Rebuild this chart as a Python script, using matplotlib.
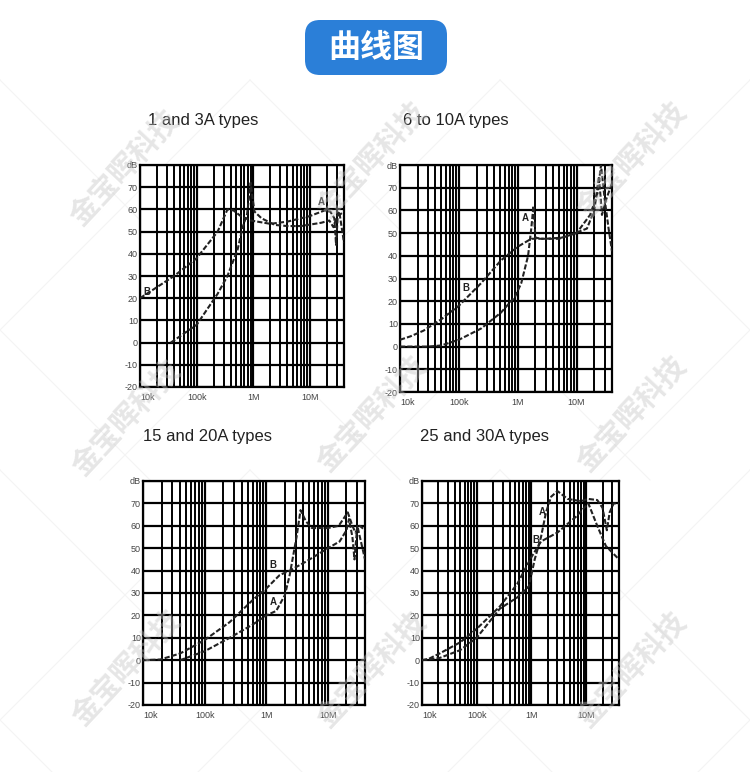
import numpy as np
import matplotlib
matplotlib.use("Agg")
import matplotlib.pyplot as plt
from matplotlib.patches import FancyBboxPatch

# ---------------- data ----------------
titles = ["1 and 3A types", "6 to 10A types", "15 and 20A types", "25 and 30A types"]
y_ticks = [-20, -10, 0, 10, 20, 30, 40, 50, 60, 70, 80]
y_tick_labels = ["-20", "-10", "0", "10", "20", "30", "40", "50", "60", "70", "dB"]
x_ticks = [1e4, 1e5, 1e6, 1e7]
x_tick_labels = ["10k", "100k", "1M", "10M"]

# panel 1: 1 and 3A
p1_fA = [3.5e4, 1e5, 2.35e5, 3.5e5, 5.3e5, 6.5e5, 7.8e5, 9.0e5, 9.6e5, 1.05e6, 1.4e6, 2.4e6, 4e6, 7e6, 1.6e7, 2.2e7, 2.6e7, 3.0e7, 3.3e7, 4e7]
p1_dA = [0, 8, 22, 30, 42, 52, 58, 72, 66, 59, 56, 53, 52.5, 52.5, 54, 55, 52, 57, 59, 45]
p1_fB = [1e4, 2e4, 4e4, 1e5, 2.35e5, 3.5e5, 4.5e5, 6e5, 9e5, 2e6, 4e6, 1e7, 1.8e7, 2.3e7, 2.7e7, 2.9e7, 3.1e7, 4e7]
p1_dB = [20, 25, 30, 38, 50, 60, 59.5, 57, 55, 53.5, 54.5, 57, 59.5, 59, 56, 44, 57, 59]

# panel 2: 6 to 10A
p2_fA = [1e4, 3e4, 5e4, 1e5, 2.4e5, 5.2e5, 9e5, 1.15e6, 1.5e6, 1.7e6, 1.85e6, 2.0e6, 2.5e6, 5e6, 7.5e6, 1.5e7, 2e7, 2.4e7, 2.7e7, 3.2e7, 4e7]
p2_dA = [0, 0, 0.5, 3, 8, 15, 22, 28, 40, 52, 62, 48, 47.5, 47.5, 49, 52, 60, 75, 58, 65, 72]
p2_fB = [1e4, 1.5e4, 2.5e4, 5e4, 1e5, 2.4e5, 5.2e5, 1e6, 1.7e6, 3e6, 5.6e6, 1e7, 1.7e7, 2.3e7, 2.6e7, 3.0e7, 3.5e7, 4e7]
p2_dB = [3, 4.5, 7, 12, 18, 28, 38, 44, 47.5, 47.5, 48, 50, 58, 68, 80, 65, 52, 42]

# panel 3: 15 and 20A
p3_fA = [4e4, 1e5, 2.55e5, 6.1e5, 1e6, 1.45e6, 2e6, 2.4e6, 3.1e6, 3.6e6, 4.4e6, 5.5e6, 1e7, 1.5e7, 2.1e7, 2.5e7, 2.8e7, 3.3e7, 4e7]
p3_dA = [0, 4, 10, 16, 20, 22, 29, 38, 55, 67, 62, 59, 59, 60, 66, 60, 57, 60, 58]
p3_fB = [1e4, 1.9e4, 4e4, 1e5, 2.55e5, 6.1e5, 1e6, 1.65e6, 2.4e6, 4.4e6, 1e7, 1.55e7, 2.0e7, 2.2e7, 2.5e7, 2.7e7, 3.0e7, 3.5e7, 4e7]
p3_dB = [0, 0.3, 3, 9, 17, 27, 32, 38, 40, 44, 50, 53, 58, 63, 55, 45, 60, 52, 45]

# panel 4: 25 and 30A
p4_fA = [1e4, 2.1e4, 5e4, 1e5, 2.65e5, 5.5e5, 9e5, 1.15e6, 1.5e6, 1.85e6, 2.3e6, 3e6, 4.6e6, 8e6, 1.1e7, 1.6e7, 2.0e7, 2.4e7, 2.7e7, 3.2e7, 4e7]
p4_dA = [0, 1, 4.5, 10, 23, 28, 33, 45, 55, 66, 73, 75.5, 72, 71, 72, 71.5, 68, 58, 66, 70, 70]
p4_fB = [1e4, 1.3e4, 2.1e4, 5e4, 1e5, 2.65e5, 5.5e5, 1e6, 1.5e6, 3e6, 6.5e6, 1.1e7, 1.6e7, 2.3e7, 4e7]
p4_dB = [0, 0.5, 3, 8, 14, 24, 34, 46, 53, 57, 64, 70, 60, 51, 45]

# curve label positions (freq, dB)
labels_A = [(1.6e7, 63.5), (1.35e6, 56.5), (1.3e6, 26), (1.6e6, 66)]
labels_B = [(1.3e4, 23), (1.3e5, 26), (1.3e6, 42.5), (1.2e6, 53.5)]

series = [(p1_fA, p1_dA, p1_fB, p1_dB),
          (p2_fA, p2_dA, p2_fB, p2_dB),
          (p3_fA, p3_dA, p3_fB, p3_dB),
          (p4_fA, p4_dA, p4_fB, p4_dB)]

# ---------------- layout (pixels) ----------------
W, H = 750, 772
boxes = [(140, 165, 344, 387), (400, 165, 612, 392), (143, 481, 365, 705), (422, 481, 619, 705)]
title_pos = [(148, 121), (403, 121), (143, 437), (420, 437)]

plt.rcParams['font.family'] = ['Liberation Sans', 'DejaVu Sans']
fig = plt.figure(figsize=(W / 100, H / 100), dpi=100)
fig.patch.set_facecolor('white')

bg = fig.add_axes([0, 0, 1, 1], zorder=0)
bg.set_xlim(0, W)
bg.set_ylim(H, 0)
bg.axis('off')

# very faint diagonal lattice lines
for x0 in [-250, 0, 250, 500, 750, 1000]:
    for (ya, yb) in [(80, 480), (470, 772)]:
        d = yb - ya
        bg.plot([x0, x0 + d], [ya, yb], color='#f4f4f4', lw=0.8, zorder=0)
        bg.plot([x0, x0 - d], [ya, yb], color='#f4f4f4', lw=0.8, zorder=0)

# header
hdr = FancyBboxPatch((305, 20), 142, 55, boxstyle="round,pad=0,rounding_size=15",
                     facecolor='#2b7fd8', edgecolor='none', zorder=2)
bg.add_patch(hdr)
bg.text(376, 48, "曲线图", color='white', fontsize=23, fontweight='bold',
        ha='center', va='center', family=['Noto Sans CJK SC', 'DejaVu Sans'], zorder=3)

for (tx, ty), t in zip(title_pos, titles):
    bg.text(tx, ty, t, fontsize=12, color='#222222', ha='left', va='center', zorder=3)

for i, (l, t, r, b) in enumerate(boxes):
    ax = fig.add_axes([l / W, (H - b) / H, (r - l) / W, (b - t) / H], zorder=1)
    ax.set_xscale('log')
    ax.set_xlim(1e4, 4e7)
    ax.set_ylim(-20, 80)
    ax.set_facecolor('white')
    ax.set_yticks(y_ticks)
    ax.set_yticklabels(y_tick_labels)
    ax.set_xticks(x_ticks)
    ax.set_xticklabels(x_tick_labels)
    ax.xaxis.set_minor_locator(matplotlib.ticker.LogLocator(base=10, subs=np.arange(2, 10)))
    ax.xaxis.set_minor_formatter(matplotlib.ticker.NullFormatter())
    ax.tick_params(axis='y', which='both', length=0, labelsize=6.5, labelcolor='#444444', pad=1.5)
    ax.tick_params(axis='x', which='both', length=0, labelsize=6.5, labelcolor='#444444', pad=4)
    xl = ax.get_xticklabels()
    xl[0].set_horizontalalignment('left')
    ax.grid(True, which='major', axis='both', color='black', lw=1.6)
    ax.grid(True, which='minor', axis='x', color='black', lw=1.4)
    for s in ax.spines.values():
        s.set_color('black')
        s.set_linewidth(1.6)
    fA, dA, fB, dB = series[i]
    ax.plot(fA, dA, color='#222222', lw=1.5, ls=(0, (2.5, 1)), zorder=3)
    ax.plot(fB, dB, color='#222222', lw=1.5, ls=(0, (2.5, 1)), zorder=3)
    ax.text(labels_A[i][0], labels_A[i][1], "A", fontsize=7, fontweight='bold', color='#222222',
            ha='center', va='center', zorder=4)
    ax.text(labels_B[i][0], labels_B[i][1], "B", fontsize=7, fontweight='bold', color='#222222',
            ha='center', va='center', zorder=4)

# watermark overlay
ov = fig.add_axes([0, 0, 1, 1], zorder=5)
ov.set_xlim(0, W)
ov.set_ylim(H, 0)
ov.axis('off')
ov.patch.set_alpha(0)
wm_pos = [(125, 168), (372, 160), (632, 160),
          (127, 418), (372, 414), (632, 414),
          (127, 668), (372, 670), (632, 670)]
for (wx, wy) in wm_pos:
    ov.text(wx, wy, "金宝晖科技", fontsize=21, fontweight='bold', color='#c4c4c4', alpha=0.42,
            rotation=47, ha='center', va='center', rotation_mode='anchor',
            family=['Noto Sans CJK SC', 'DejaVu Sans'])

fig.savefig("out.png", dpi=100, facecolor='white')
